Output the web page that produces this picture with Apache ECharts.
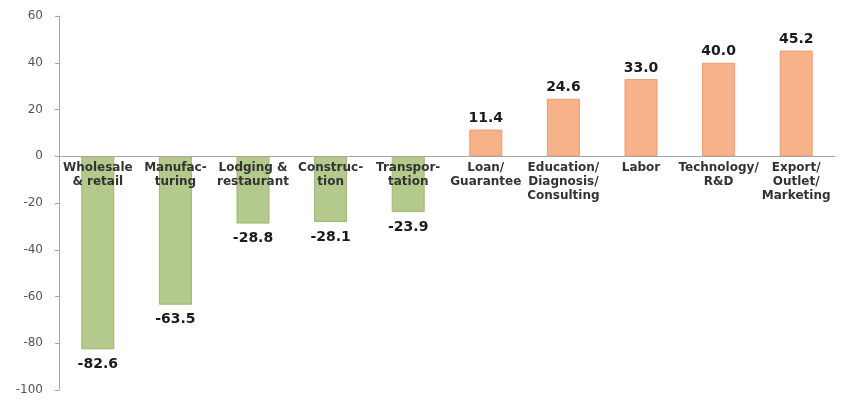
<!DOCTYPE html>
<html>
<head>
<meta charset="utf-8">
<script src="https://cdn.jsdelivr.net/npm/echarts@6/dist/echarts.min.js"></script>
<style>
  html, body { margin: 0; padding: 0; background: #fff; }
  #main { width: 845px; height: 401px; }
</style>
</head>
<body>
<div id="main"></div>
<script>
// categories and values
var categories = [
  'Wholesale\n& retail', 'Manufac-\nturing', 'Lodging &\nrestaurant', 'Construc-\ntion',
  'Transpor-\ntation', 'Loan/\nGuarantee', 'Education/\nDiagnosis/\nConsulting', 'Labor',
  'Technology/\nR&D', 'Export/\nOutlet/\nMarketing'
];
var values = [-82.6, -63.5, -28.8, -28.1, -23.9, 11.4, 24.6, 33.0, 40.0, 45.2];
var yMin = -100, yMax = 60, yStep = 20;

var negColor = '#b4c98c';
var posColor = '#f8b289';

var myChart = echarts.init(document.getElementById('main'));
myChart.setOption({
  animation: false,
  grid: { left: 59, right: 10, top: 16, bottom: 11, outerBoundsMode: 'none', containLabel: false },
  xAxis: {
    type: 'category',
    z: 10,
    data: categories,
    axisLine: { onZero: false, lineStyle: { color: '#a6a6a6' } },
    axisTick: { length: 4, lineStyle: { color: '#a6a6a6' } },
    axisLabel: {
      interval: 0,
      hideOverlap: false,
      margin: 5,
      fontFamily: 'DejaVu Sans',
      fontWeight: 'bold',
      fontSize: 12,
      lineHeight: 14,
      color: '#333'
    }
  },
  yAxis: {
    type: 'value',
    min: yMin,
    max: yMax,
    interval: yStep,
    splitLine: { show: false },
    axisLine: { show: true, lineStyle: { color: '#a6a6a6' } },
    axisTick: { show: true, length: 4, lineStyle: { color: '#a6a6a6' } },
    axisLabel: {
      fontFamily: 'DejaVu Sans',
      fontSize: 12,
      color: '#555',
      margin: 16
    }
  },
  series: [{
    type: 'bar',
    barWidth: 33,
    data: values.map(function (v) {
      return {
        value: v,
        itemStyle: {
          color: v < 0 ? negColor : posColor,
          borderColor: v < 0 ? '#9db574' : '#e99c70',
          borderWidth: 1
        },
        label: { position: v < 0 ? 'bottom' : 'top', distance: v < 0 ? 8 : 4 }
      };
    }),
    label: {
      show: true,
      fontFamily: 'DejaVu Sans',
      fontWeight: 'bold',
      fontSize: 14,
      color: '#1a1a1a',
      formatter: function (p) { return p.value.toFixed(1); }
    }
  }]
});

// category axis (line, ticks and labels) sits on the zero line
var zeroY = myChart.convertToPixel({ yAxisIndex: 0 }, 0);
var bottomY = myChart.convertToPixel({ yAxisIndex: 0 }, yMin);
myChart.setOption({ xAxis: { offset: zeroY - bottomY } });
</script>
</body>
</html>
